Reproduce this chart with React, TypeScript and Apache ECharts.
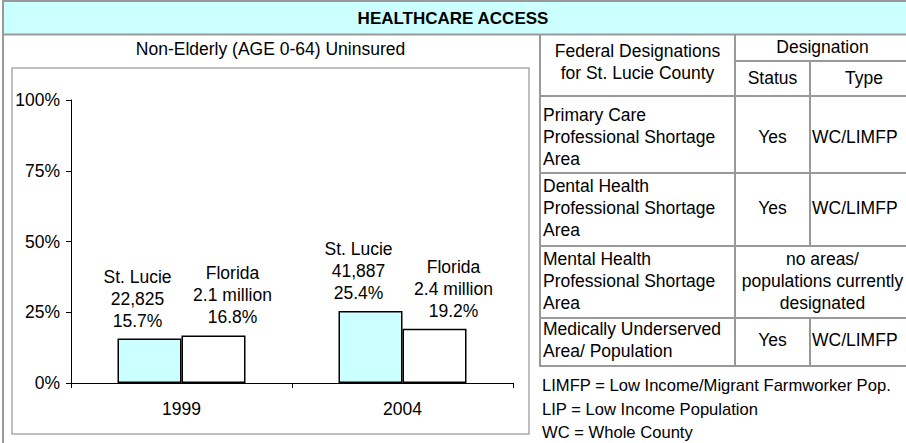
import React, { useEffect, useRef } from 'react';
import * as echarts from 'echarts';

const categories = ['1999', '2004'];
const seriesNames = ['St. Lucie', 'Florida'];
const stLucieValues = [15.7, 25.4];
const floridaValues = [16.8, 19.2];
const stLucieCounts = ['22,825', '41,887'];
const floridaCounts = ['2.1 million', '2.4 million'];
const yMin = 0;
const yMax = 100;
const yInterval = 25;

const pageTitle = 'HEALTHCARE ACCESS';
const chartTitle = 'Non-Elderly (AGE 0-64) Uninsured';
const headerCol1 = ['Federal Designations', 'for St. Lucie County'];
const headerGroup = 'Designation';
const headerSub = ['Status', 'Type'];
const rowLabels = [
  ['Primary Care', 'Professional Shortage', 'Area'],
  ['Dental Health', 'Professional Shortage', 'Area'],
  ['Mental Health', 'Professional Shortage', 'Area'],
  ['Medically Underserved', 'Area/ Population'],
];
const rowStatus = ['Yes', 'Yes', '', 'Yes'];
const rowType = ['WC/LIMFP', 'WC/LIMFP', '', 'WC/LIMFP'];
const mergedNote = ['no areas/', 'populations currently', 'designated'];
const footnotes = [
  'LIMFP = Low Income/Migrant Farmworker Pop.',
  'LIP = Low Income Population',
  'WC = Whole County',
];

const FONT = '"Liberation Sans", Arial, Helvetica, sans-serif';
const FS = 17.5;
const GRAY = '#999999';
const CYAN = '#ccffff';

// layout
const TX0 = 540, TX1 = 735, TX2 = 810, TXR = 918;
const TY = { top: 35, sub: 61, head: 96, r1: 173, r2: 246, r3: 318, bottom: 366 };
const rowCenters = [137, 208, 281, 340];
const footY = [385, 409, 432];

function txt(text: string, x: number, y: number, align: string, extra: any = {}) {
  return {
    type: 'text',
    x,
    y,
    silent: true,
    z: 10,
    style: {
      text,
      fill: '#000',
      fontSize: FS,
      fontFamily: FONT,
      lineHeight: 22,
      textAlign: align,
      align,
      textVerticalAlign: 'middle',
      verticalAlign: 'middle',
      ...extra,
    },
  };
}

function ln(x1: number, y1: number, x2: number, y2: number, color = GRAY, w = 2) {
  return {
    type: 'line',
    silent: true,
    z: 5,
    shape: { x1, y1, x2, y2 },
    style: { stroke: color, lineWidth: w },
  };
}

export default function App() {
  const ref = useRef<HTMLDivElement>(null);
  useEffect(() => {
    if (!ref.current) return;
    const chart = echarts.init(ref.current, undefined, { renderer: 'svg' });

    const graphics: any[] = [];
    // outer border & header band
    graphics.push({
      type: 'rect', silent: true, z: 1,
      shape: { x: 3, y: 1, width: 930, height: 470 },
      style: { fill: '#fff', stroke: GRAY, lineWidth: 2 },
    });
    graphics.push({
      type: 'rect', silent: true, z: 2,
      shape: { x: 4, y: 2, width: 920, height: 32 },
      style: { fill: CYAN },
    });
    graphics.push(ln(3, 34.5, 930, 34.5));
    graphics.push(txt(pageTitle, 453, 18, 'center', { fontWeight: 'bold', fontSize: 17 }));

    // chart frame and title
    graphics.push({
      type: 'rect', silent: true, z: 3,
      shape: { x: 12, y: 68, width: 517, height: 366 },
      style: { fill: 'none', stroke: '#aaaaaa', lineWidth: 1.5 },
    });
    graphics.push(txt(chartTitle, 270.5, 49, 'center'));

    // table lines
    graphics.push(ln(TX0, TY.top, TX0, TY.bottom));
    graphics.push(ln(TX1, TY.top, TX1, TY.bottom));
    graphics.push(ln(TX2, TY.sub, TX2, TY.r2));
    graphics.push(ln(TX2, TY.r3, TX2, TY.bottom));
    graphics.push(ln(TX1, TY.sub, TXR, TY.sub));
    [TY.head, TY.r1, TY.r2, TY.r3, TY.bottom].forEach((y) => graphics.push(ln(TX0 - 1, y, TXR, y)));

    // table header texts
    graphics.push(txt(headerCol1.join('\n'), (TX0 + TX1) / 2, 62, 'center'));
    graphics.push(txt(headerGroup, (TX1 + TXR) / 2 - 4, 47, 'center'));
    graphics.push(txt(headerSub[0], (TX1 + TX2) / 2, 78, 'center'));
    graphics.push(txt(headerSub[1], (TX2 + TXR) / 2 + 0, 78, 'center'));

    rowLabels.forEach((lines, i) => {
      graphics.push(txt(lines.join('\n'), TX0 + 3, rowCenters[i], 'left'));
      if (rowStatus[i]) graphics.push(txt(rowStatus[i], (TX1 + TX2) / 2, rowCenters[i], 'center'));
      if (rowType[i]) graphics.push(txt(rowType[i], TX2 + 2, rowCenters[i], 'left'));
    });
    graphics.push(txt(mergedNote.join('\n'), (TX1 + TXR) / 2 - 4, rowCenters[2], 'center'));

    footnotes.forEach((f, i) => graphics.push(txt(f, TX0 + 2, footY[i], 'left', { fontSize: 16.6 })));

    const labelBase = {
      show: true,
      position: 'top',
      distance: 7,
      color: '#000',
      fontSize: FS,
      fontFamily: FONT,
      lineHeight: 22,
      align: 'center',
    };

    chart.setOption({
      animation: false,
      backgroundColor: 'transparent',
      graphic: { elements: graphics },
      grid: { left: 71, right: 393, top: 100, bottom: 60, containLabel: false, z: 20 },
      xAxis: {
        type: 'category',
        data: categories,
        boundaryGap: true,
        z: 20,
        axisLine: { show: true, lineStyle: { color: '#000', width: 1 } },
        axisTick: { show: true, length: 5, alignWithLabel: false, lineStyle: { color: '#000' } },
        axisLabel: { color: '#000', fontSize: FS, fontFamily: FONT, margin: 17 },
        splitLine: { show: false },
      },
      yAxis: {
        type: 'value',
        min: yMin,
        max: yMax,
        interval: yInterval,
        z: 20,
        axisLine: { show: true, lineStyle: { color: '#000', width: 1 } },
        axisTick: { show: true, length: 5, lineStyle: { color: '#000' } },
        axisLabel: { color: '#000', fontSize: FS, fontFamily: FONT, margin: 11, formatter: '{value}%' },
        splitLine: { show: false },
      },
      series: [
        {
          name: seriesNames[0],
          type: 'bar',
          data: stLucieValues,
          barWidth: 64,
          barGap: '0%',
          z: 20,
          itemStyle: { color: CYAN, borderColor: '#000', borderWidth: 1.5 },
          label: {
            ...labelBase,
            offset: [-12, 0],
            formatter: (p: any) =>
              `${seriesNames[0]}\n${stLucieCounts[p.dataIndex]}\n${Number(p.value).toFixed(1)}%`,
          },
        },
        {
          name: seriesNames[1],
          type: 'bar',
          data: floridaValues,
          barWidth: 64,
          barGap: '0%',
          z: 20,
          itemStyle: { color: '#ffffff', borderColor: '#000', borderWidth: 1.5 },
          label: {
            ...labelBase,
            offset: [19, 0],
            formatter: (p: any) =>
              `${seriesNames[1]}\n${floridaCounts[p.dataIndex]}\n${Number(p.value).toFixed(1)}%`,
          },
        },
      ],
    });
    return () => chart.dispose();
  }, []);

  return (
    <div
      ref={ref}
      style={{ position: 'fixed', left: 0, top: 0, width: 906, height: 443, background: '#fff' }}
    />
  );
}
